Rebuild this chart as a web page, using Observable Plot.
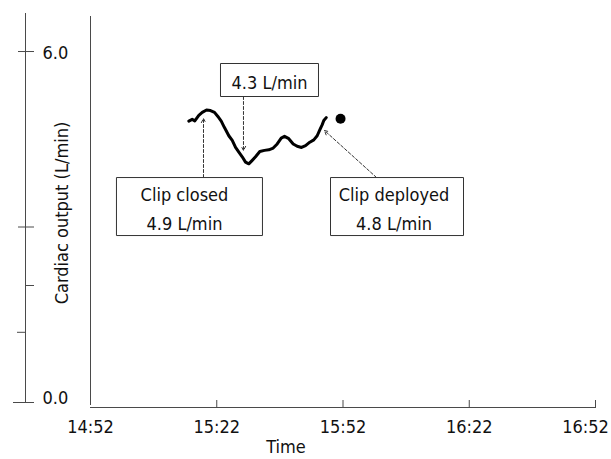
<!DOCTYPE html>
<html><head><meta charset="utf-8">
<script src="https://cdn.jsdelivr.net/npm/d3@7"></script>
<script src="https://cdn.jsdelivr.net/npm/@observablehq/plot@0.6"></script>
<style>
body{margin:0;background:#fff;}
svg{display:block;overflow:visible;}
</style>
</head><body><div id="chart"></div>
<script>
// ---- data ----
const sampleTimes = ["15:15:22","15:16:10","15:16:47","15:17:44","15:18:33","15:19:34","15:20:31","15:21:28","15:22:16","15:23:04","15:23:50","15:24:52","15:25:41","15:26:28","15:27:15","15:28:03","15:28:50","15:29:37","15:30:26","15:31:13","15:32:14","15:33:21","15:34:22","15:35:25","15:36:22","15:37:19","15:38:06","15:39:07","15:40:10","15:41:07","15:42:09","15:43:06","15:44:07","15:45:04","15:45:52","15:46:29","15:47:04","15:47:26","15:48:01"];
const cardiacOutput = [4.81,4.84,4.815,4.91,4.96,5.00,4.99,4.96,4.89,4.81,4.70,4.56,4.48,4.36,4.28,4.20,4.11,4.08,4.14,4.20,4.29,4.31,4.32,4.35,4.42,4.52,4.55,4.51,4.42,4.38,4.36,4.39,4.45,4.49,4.56,4.66,4.75,4.82,4.87];
const deployTimes = ["15:51:25"];
const deployValues = [4.85];

const xTickLabels = ["14:52","15:22","15:52","16:22","16:52"];
const yLabeledTicks = [0, 6];
const yCrossTicks = [6, 3];
const yRightTicks = [2];
const yLeftTicks = [1.2];

const annotationTexts = ["4.3 L/min", "Clip closed\n4.9 L/min", "Clip deployed\n4.8 L/min"];
const annotationTimes = ["15:34:32", "15:15:31", "16:04:50"];
const annotationValues = [5.513, 3.35, 3.35];
const arrowFromTimes = ["15:28:21", "15:18:51", "15:59:58"];
const arrowFromValues = [5.231, 3.846, 3.846];
const arrowToTimes = ["15:28:21", "15:18:51", "15:47:36"];
const arrowToValues = [4.308, 4.855, 4.650];

// ---- helpers ----
const t = s => new Date("2000-01-01T" + (s.length === 5 ? s + ":00" : s) + "Z");
const series = sampleTimes.map((s, i) => ({time: t(s), value: cardiacOutput[i]}));
const deploy = deployTimes.map((s, i) => ({time: t(s), value: deployValues[i]}));
const xTicks = xTickLabels.map(t);
const annotations = annotationTexts.map((text, i) => ({text, time: t(annotationTimes[i]), value: annotationValues[i]}));
const arrows = arrowFromTimes.map((s, i) => ({t1: t(s), v1: arrowFromValues[i], t2: t(arrowToTimes[i]), v2: arrowToValues[i]}));

const FS = 18;
const LINE = "#4a4a4a";
const INK = "#111";
const boxW = [98, 146, 133], boxH = [33, 58, 58], textDx = [0, -5, -3];
const boxSymbol = (w, h) => ({draw(ctx) {
  ctx.moveTo(-w/2, -h/2); ctx.lineTo(w/2, -h/2); ctx.lineTo(w/2, h/2); ctx.lineTo(-w/2, h/2); ctx.closePath();
}});
const fmtTime = d3.utcFormat("%H:%M");
const blank = () => "";

const annotationMarks = annotations.flatMap((a, i) => [
  Plot.dot([a], {x: "time", y: "value", r: 1, symbol: boxSymbol(boxW[i], boxH[i]), fill: "white", stroke: "#333", strokeWidth: 1}),
  Plot.text([a], {x: "time", y: "value", text: "text", dx: textDx[i], fontSize: FS, lineHeight: 1.6, fill: INK})
]);

const chart = Plot.plot({
  width: 611,
  height: 459,
  marginLeft: 90,
  marginRight: 16,
  marginTop: 13,
  marginBottom: 57,
  style: {fontFamily: "'DejaVu Sans Condensed', 'DejaVu Sans', sans-serif", fontStretch: "condensed", color: INK, background: "white"},
  x: {type: "utc", domain: [xTicks[0], xTicks[xTicks.length - 1]]},
  y: {domain: [0, 6.65]},
  marks: [
    // left auxiliary axis
    Plot.ruleX([xTicks[0]], {dx: -65, stroke: LINE}),
    Plot.axisY({anchor: "right", ticks: [0], tickSize: 21, dx: -583, tickFormat: blank, stroke: LINE, label: null}),
    Plot.axisY({anchor: "right", ticks: yCrossTicks, tickSize: 16, dx: -578, tickFormat: blank, stroke: LINE, label: null}),
    Plot.axisY({anchor: "right", ticks: yRightTicks, tickSize: 8, dx: -570, tickFormat: blank, stroke: LINE, label: null}),
    Plot.axisY({anchor: "left", ticks: yLeftTicks, tickSize: 8, dx: -65, tickFormat: blank, stroke: LINE, label: null}),
    Plot.axisY({anchor: "right", ticks: [yLabeledTicks[1]], tickSize: 0, tickPadding: 0, dx: -553, dy: 2, tickFormat: d3.format(".1f"), fontSize: FS, label: null, fill: INK}),
    Plot.axisY({anchor: "right", ticks: [yLabeledTicks[0]], tickSize: 0, tickPadding: 0, dx: -553, dy: -4, tickFormat: d3.format(".1f"), fontSize: FS, label: null, fill: INK}),
    Plot.text(["Cardiac output (L/min)"], {frameAnchor: "left", textAnchor: "middle", rotate: -90, dx: -28, dy: 5, fontSize: FS, fill: INK}),
    // main frame
    Plot.ruleX([xTicks[0]], {dy: 3, stroke: LINE}),
    Plot.ruleY([0], {dy: 5, stroke: LINE}),
    // x axis
    Plot.axisX({anchor: "top", ticks: xTicks.slice(1), tickSize: 8, dy: 394, tickFormat: blank, stroke: LINE, label: null}),
    Plot.axisX({anchor: "bottom", ticks: xTicks.slice(0, 4), tickSize: 0, tickPadding: 18, tickFormat: fmtTime, fontSize: FS, label: null, fill: INK}),
    Plot.axisX({anchor: "bottom", ticks: xTicks.slice(4), tickSize: 0, tickPadding: 18, dx: -10, tickFormat: fmtTime, fontSize: FS, label: null, fill: INK}),
    Plot.text(["Time"], {frameAnchor: "bottom", lineAnchor: "top", dx: -57, dy: 37.5, fontSize: FS, fill: INK}),
    // data
    Plot.line(series, {x: "time", y: "value", stroke: "#000", strokeWidth: 3, strokeLinejoin: "round", strokeLinecap: "round"}),
    Plot.dot(deploy, {x: "time", y: "value", r: 5, fill: "#000"}),
    // annotations
    Plot.arrow(arrows, {x1: "t1", y1: "v1", x2: "t2", y2: "v2", stroke: "#333", strokeWidth: 1, strokeDasharray: "3,2", headLength: 7, headAngle: 55}),
    ...annotationMarks
  ]
});
document.getElementById("chart").append(chart);
</script>
</body></html>
